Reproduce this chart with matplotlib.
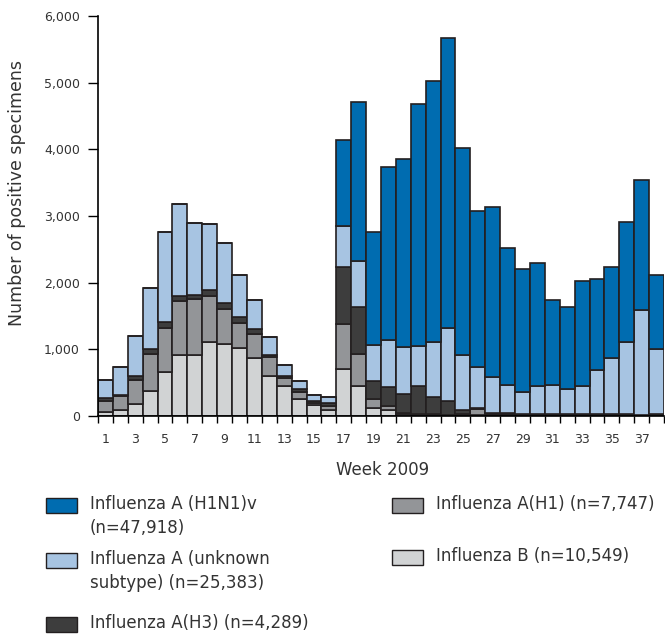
import numpy as np
import matplotlib
matplotlib.use("Agg")
import matplotlib.pyplot as plt
from matplotlib.patches import Rectangle

plt.rcParams['font.family'] = ['Liberation Sans Narrow', 'DejaVu Sans']

weeks = np.arange(1, 39)

# values (weeks 1..38)
flu_b = [65, 90, 180, 380, 655, 920, 920, 1105, 1080, 1015, 875, 605, 455, 255, 165, 95,
         705, 450, 115, 90, 30, 15, 15, 10, 20, 20, 20, 15, 10, 10, 10, 10, 10, 10, 10, 10, 5, 10]
flu_h1 = [165, 215, 360, 550, 665, 805, 830, 695, 525, 375, 355, 275, 115, 105, 25, 50,
          675, 475, 140, 65, 15, 15, 15, 10, 15, 80, 10, 10, 5, 5, 5, 5, 5, 5, 5, 5, 0, 5]
flu_h3 = [35, 10, 60, 75, 85, 75, 60, 85, 85, 90, 80, 30, 30, 45, 40, 45,
          860, 715, 270, 275, 285, 425, 260, 210, 55, 15, 20, 15, 15, 15, 10, 10, 10, 10, 10, 10, 5, 10]
flu_unk = [275, 425, 605, 920, 1355, 1387, 1087, 992, 902, 640, 425, 280, 160, 120, 80, 90,
           610, 685, 540, 710, 710, 600, 815, 1095, 825, 620, 540, 425, 325, 425, 440, 375, 425, 665, 850, 1090, 1580, 975]
flu_h1n1 = [0] * 16 + [1290, 2390, 1700, 2600, 2815, 3625, 3915, 4340, 3110, 2345, 2550, 2060,
                       1850, 1840, 1275, 1240, 1575, 1360, 1365, 1790, 1955, 1115]

series = [flu_b, flu_h1, flu_h3, flu_unk, flu_h1n1]
colors = ['#d1d3d4', '#939598', '#3d3d3d', '#a7c4e2', '#006cb0']
labels = ['Influenza B (n=10,549)', 'Influenza A(H1) (n=7,747)', 'Influenza A(H3) (n=4,289)',
          'Influenza A (unknown\nsubtype) (n=25,383)', 'Influenza A (H1N1)v\n(n=47,918)']

fig = plt.figure(figsize=(6.65, 6.37), dpi=100)
ax = fig.add_axes([98 / 665, 1 - 416 / 637, 566 / 665, 400 / 637])

bottom = np.zeros(len(weeks))
for vals, c in zip(series, colors):
    ax.bar(weeks, vals, width=1.0, bottom=bottom, color=c, edgecolor='#231f20', linewidth=1.2)
    bottom += np.array(vals)

ax.set_xlim(0.5, 38.5)
ax.set_ylim(0, 6000)
ax.set_yticks(np.arange(0, 6001, 1000))
ax.set_yticklabels(['0', '1,000', '2,000', '3,000', '4,000', '5,000', '6,000'], fontsize=9, color='#333333')
ax.set_xticks(np.arange(0.5, 38.6, 1.0))
ax.set_xticklabels([])
ax.tick_params(axis='y', length=7, width=1, direction='out', pad=6)
ax.tick_params(axis='x', length=5, width=1, direction='out')
for w in range(1, 39, 2):
    ax.text(w, -260, str(w), ha='center', va='top', fontsize=9, color='#333333')
for s in ['top', 'right']:
    ax.spines[s].set_visible(False)
ax.spines['left'].set_linewidth(1.2)
ax.spines['bottom'].set_linewidth(1.2)

ax.set_ylabel('Number of positive specimens', fontsize=12.5, color='#333333')
ax.yaxis.set_label_coords(-72 / 566, (416 - 193) / 400)
fig.text(383 / 665, 1 - 470 / 637, 'Week 2009', ha='center', va='center', fontsize=12, color='#333333')

# legend, two columns
leg = [(4, 46, 505), (3, 46, 560), (2, 46, 624), (1, 392, 505), (0, 392, 557)]
for i, px, py in leg:
    fig.add_artist(Rectangle((px / 665, 1 - (py + 8) / 637), 31 / 665, 15 / 637,
                             transform=fig.transFigure, facecolor=colors[i],
                             edgecolor='#231f20', linewidth=1.0))
    fig.text((px + 44) / 665, 1 - (py - 10) / 637, labels[i], ha='left', va='top',
             fontsize=12, color='#333333', linespacing=1.45)

fig.savefig('out.png', dpi=100)
